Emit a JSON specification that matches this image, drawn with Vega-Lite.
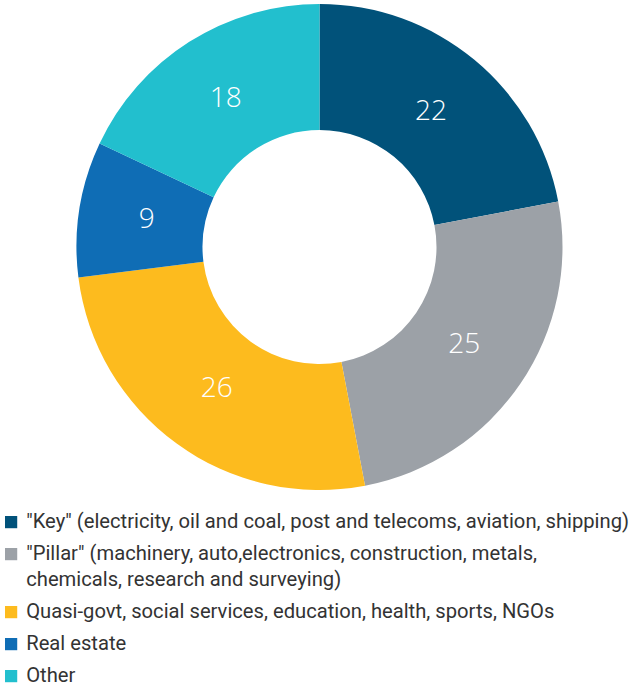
{
  "$schema": "https://vega.github.io/schema/vega-lite/v6.json",
  "width": 639,
  "height": 494,
  "padding": 0,
  "background": "white",
  "config": {"view": {"stroke": null}, "style": {"guide-label": {"lineHeight": 26}}},
  "data": {
    "values": [
      {"idx": 1, "sector": "\"Key\" (electricity, oil and coal, post and telecoms, aviation, shipping)", "value": 22},
      {"idx": 2, "sector": "\"Pillar\" (machinery, auto,electronics, construction, metals,|chemicals, research and surveying)", "value": 25},
      {"idx": 3, "sector": "Quasi-govt, social services, education, health, sports, NGOs", "value": 26},
      {"idx": 4, "sector": "Real estate", "value": 9},
      {"idx": 5, "sector": "Other", "value": 18}
    ]
  },
  "encoding": {
    "theta": {"field": "value", "type": "quantitative", "stack": true},
    "order": {"field": "idx", "type": "quantitative"}
  },
  "layer": [
    {
      "mark": {"type": "arc", "outerRadius": 243, "innerRadius": 117},
      "encoding": {
        "color": {
          "field": "sector",
          "type": "nominal",
          "scale": {
            "domain": [
              "\"Key\" (electricity, oil and coal, post and telecoms, aviation, shipping)",
              "\"Pillar\" (machinery, auto,electronics, construction, metals,|chemicals, research and surveying)",
              "Quasi-govt, social services, education, health, sports, NGOs",
              "Real estate",
              "Other"
            ],
            "range": ["#01527A", "#9CA1A7", "#FDBB1E", "#0F6DB5", "#22BFCE"]
          },
          "legend": {
            "orient": "none",
            "legendX": 1,
            "legendY": 512,
            "padding": 0,
            "direction": "vertical",
            "title": null,
            "symbolType": "square",
            "symbolSize": 150,
            "symbolStrokeWidth": 0,
            "symbolOpacity": 1,
            "labelFont": "Roboto",
            "labelFontSize": 20.2,
            "labelColor": "#333333",
            "labelLimit": 700,
            "labelOffset": 5,
            "rowPadding": 11,
            "labelExpr": "split(datum.label, '|')"
          }
        }
      }
    },
    {
      "mark": {"type": "text", "radius": 175, "fontSize": 28, "font": "Open Sans", "fontWeight": 300, "color": "white"},
      "encoding": {"text": {"field": "value", "type": "quantitative"}}
    }
  ]
}
